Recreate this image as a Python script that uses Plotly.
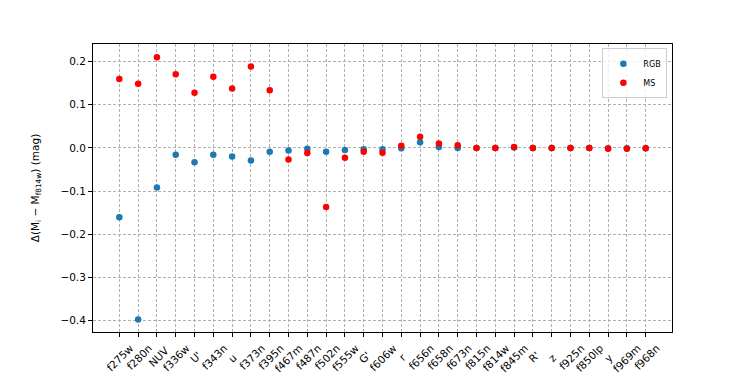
import plotly.graph_objects as go

# Filtros (orden del eje x)
filters = ['f275w', 'f280n', 'NUV', 'f336w', "U'", 'f343n', 'u', 'f373n', 'f395n',
           'f467m', 'f487n', 'f502n', 'f555w', "G'", 'f606w', 'r', 'f656n', 'f658n',
           'f673n', 'f815n', 'f814w', 'f845m', "R'", 'z', 'f925n', 'f850lp', 'y',
           'f969m', 'f968n']

# Diferencias de magnitud (mag)
rgb = [-0.161, -0.398, -0.092, -0.016, -0.033, -0.016, -0.020, -0.029, -0.009,
       -0.006, -0.002, -0.009, -0.005, -0.003, -0.003, -0.001, 0.013, 0.002,
       0.000, 0.000, 0.000, 0.001, 0.000, 0.000, 0.000, 0.000, -0.001,
       -0.001, -0.001]
ms = [0.160, 0.149, 0.210, 0.171, 0.128, 0.165, 0.138, 0.189, 0.134,
      -0.027, -0.012, -0.137, -0.023, -0.009, -0.011, 0.005, 0.026, 0.010,
      0.006, 0.000, 0.000, 0.002, 0.000, 0.000, 0.000, 0.000, -0.002,
      -0.002, -0.001]

idx = list(range(len(filters)))

# etiquetas centradas bajo el tick como en matplotlib: se rellenan las cortas
pad = {1: 4, 2: 3, 3: 1}
ticktext = [f + '\u00a0' * pad.get(len(f), 0) for f in filters]

fig = go.Figure()
fig.add_trace(go.Scatter(x=idx, y=rgb, mode='markers', name='RGB',
                         marker=dict(color='#1f77b4', size=6.5)))
fig.add_trace(go.Scatter(x=idx, y=ms, mode='markers', name='MS',
                         marker=dict(color='red', size=6.5)))

grid = dict(showgrid=True, gridcolor='#b0b0b0', griddash='3px,2px', gridwidth=1,
            showline=True, linecolor='black', linewidth=1, mirror=True,
            ticks='outside', ticklen=4, tickcolor='black', zeroline=False)

# la página html tiene 8px de margen en el body
fig.update_layout(
    width=739, height=366,
    plot_bgcolor='white', paper_bgcolor='white',
    margin=dict(l=85, r=75, t=36, b=42),
    font=dict(family='DejaVu Sans', size=10.5, color='black'),
    showlegend=True,
    legend=dict(x=0.992, y=0.985, xanchor='right', yanchor='top',
                bgcolor='rgba(255,255,255,0.8)', bordercolor='#cccccc', borderwidth=1,
                font=dict(size=8), itemwidth=30, tracegroupgap=0),
    xaxis=dict(range=[-1.4, 29.4], tickmode='array', tickvals=idx, ticktext=ticktext,
               tickangle=-45, ticklabelshift=11, ticklabelstandoff=1,
               tickfont=dict(size=10.5), automargin=False, **grid),
    yaxis=dict(range=[-0.427, 0.241], tickmode='array',
               tickvals=[-0.4, -0.3, -0.2, -0.1, 0.0, 0.1, 0.2],
               ticktext=['\u22120.4', '\u22120.3', '\u22120.2', '\u22120.1', '0.0', '0.1', '0.2'],
               automargin=False,
               title=dict(text='\u0394(M<sub>i</sub> \u2212 M<sub>f814w</sub>) (mag)',
                          font=dict(size=10.5), standoff=18),
               **grid),
)

fig.write_html("out.html")
